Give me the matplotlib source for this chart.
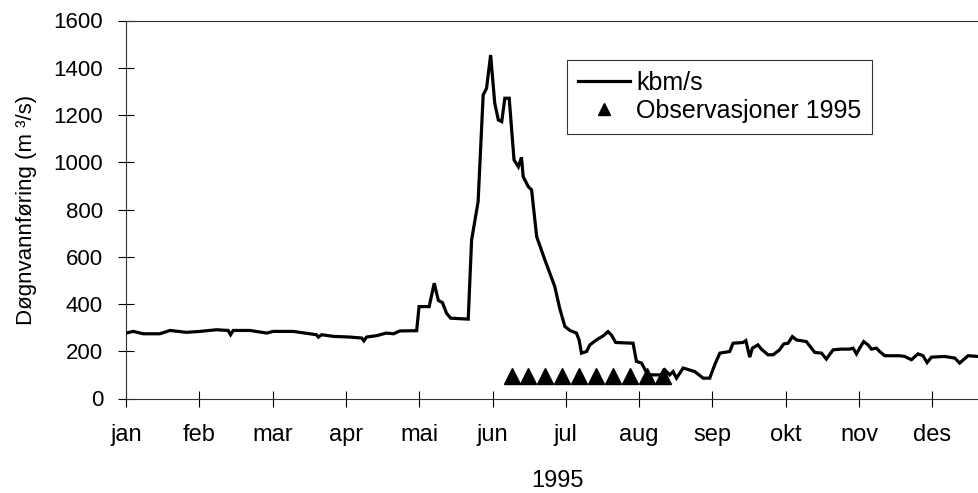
import matplotlib
matplotlib.use("Agg")
import matplotlib.pyplot as plt

plt.rcParams['font.family'] = ['Liberation Sans', 'DejaVu Sans']

# Daily discharge (day of year, m3/s)
days = [0, 3, 7.2, 14, 18.3, 25, 30.7, 37.6, 42.4, 43.4, 44.5, 51.4, 58.4, 61,
        69.4, 76.3, 79, 79.8, 81.2, 86, 93, 97.8, 98.7, 99.8, 104, 108, 111,
        113.6, 120.6, 121.6, 125.8, 127.9, 129.6, 131.3, 133, 134.7, 142,
        143.4, 146.1, 148.2, 149.6, 151.3, 153, 154.5, 155.9, 157.2, 159,
        161, 162.8, 164.1, 164.8, 166.9, 168.3, 170.4, 173.8, 177.9, 180,
        182.1, 184.2, 186.9, 188, 189, 191.1, 192.5, 195.2, 198, 200, 201.4,
        203.2, 210.4, 211.8, 213.9, 216, 217.3, 222.2, 223.6, 225.6, 227,
        228.4, 231.2, 236, 239.5, 242.2, 244.3, 246.4, 250.5, 251.9, 256,
        257.2, 258.8, 259.9, 262.2, 263.6, 266.4, 268.5, 271.2, 272.9, 274.7,
        276.5, 278.2, 282.3, 285.8, 288.6, 290.6, 293.4, 296.8, 300.3, 301.7,
        303.1, 304.4, 306.1, 307.9, 309.3, 311.4, 312.7, 314.8, 321, 323.1,
        325.9, 328.6, 330.7, 332.4, 334.2, 339.7, 343.9, 345.9, 349.4, 353.5,
        358]
flow = [277, 284, 274, 274, 288, 280, 284, 291, 288, 270, 288, 288, 277, 284,
        284, 274, 270, 260, 270, 263, 260, 256, 244, 260, 266, 277, 274,
        286, 287, 389, 389, 488, 415, 406, 361, 340, 336,
        671, 833, 1285, 1313, 1454, 1250, 1179, 1172, 1271, 1271,
        1010, 981, 1021, 939, 897, 883, 685, 587, 474, 380,
        305, 288, 277, 248, 192, 199, 227, 248, 265, 283, 269,
        237, 234, 157, 150, 110, 100, 100, 121, 100, 114,
        86, 129, 114, 86, 86, 143, 192, 199, 234, 237,
        245, 175, 213, 227, 209, 185, 185, 206, 231, 234,
        262, 248, 241, 195, 192, 167, 206, 209, 209, 213,
        189, 213, 241, 227, 209, 213, 199, 181, 181, 178,
        164, 189, 181, 152, 175, 178, 171, 150, 181, 178,
        175]

# Observations 1995 (weekly)
obs_days = [160, 167, 174, 181, 188, 195, 202, 209, 216, 223]
obs_flow = [95, 95, 95, 95, 95, 95, 95, 95, 95, 95]

month_labels = ['jan', 'feb', 'mar', 'apr', 'mai', 'jun', 'jul', 'aug',
                'sep', 'okt', 'nov', 'des']
yticks = [0, 200, 400, 600, 800, 1000, 1200, 1400, 1600]

W, H = 979, 493
fig = plt.figure(figsize=(W / 100, H / 100), dpi=100)
x0, x1, ytop, ybot = 126, 990, 20.5, 398.5
ax = fig.add_axes([x0 / W, (H - ybot) / H, (x1 - x0) / W, (ybot - ytop) / H])

ax.plot(days, flow, color='black', lw=2.3, label='kbm/s', zorder=3,
        solid_joinstyle='miter')
ax.plot(obs_days, obs_flow, linestyle='none', marker='^', ms=11,
        color='black', label='Observasjoner 1995', zorder=4)

ax.set_xlim(0, 358.5)
ax.set_ylim(0, 1600)
ax.set_xticks([i * 365 / 12 for i in range(12)])
ax.set_xticklabels(month_labels)
ax.set_yticks(yticks)
ax.set_yticklabels([str(v) for v in yticks])

ax.tick_params(axis='both', direction='inout', length=11, width=0.8,
               colors='black')
ax.tick_params(axis='y', pad=11, labelsize=16)
ax.tick_params(axis='x', pad=13, labelsize=17)
for s in ax.spines.values():
    s.set_linewidth(0.8)
    s.set_color('#333333')

ax.set_ylabel('Døgnvannføring (m ³/s)', fontsize=16, labelpad=12)
ax.set_xlabel('1995', fontsize=17, labelpad=17)

leg = ax.legend(loc='upper left', bbox_to_anchor=(567 / W, 1 - 60 / H),
                bbox_transform=fig.transFigure, borderaxespad=0,
                frameon=True, fancybox=False, shadow=False, fontsize=18,
                handlelength=2.08, handletextpad=0.28, labelspacing=0.18,
                borderpad=0.42, markerscale=0.85)
leg.get_frame().set_edgecolor('black')
leg.get_frame().set_linewidth(0.8)

fig.savefig('out.png', dpi=100)
